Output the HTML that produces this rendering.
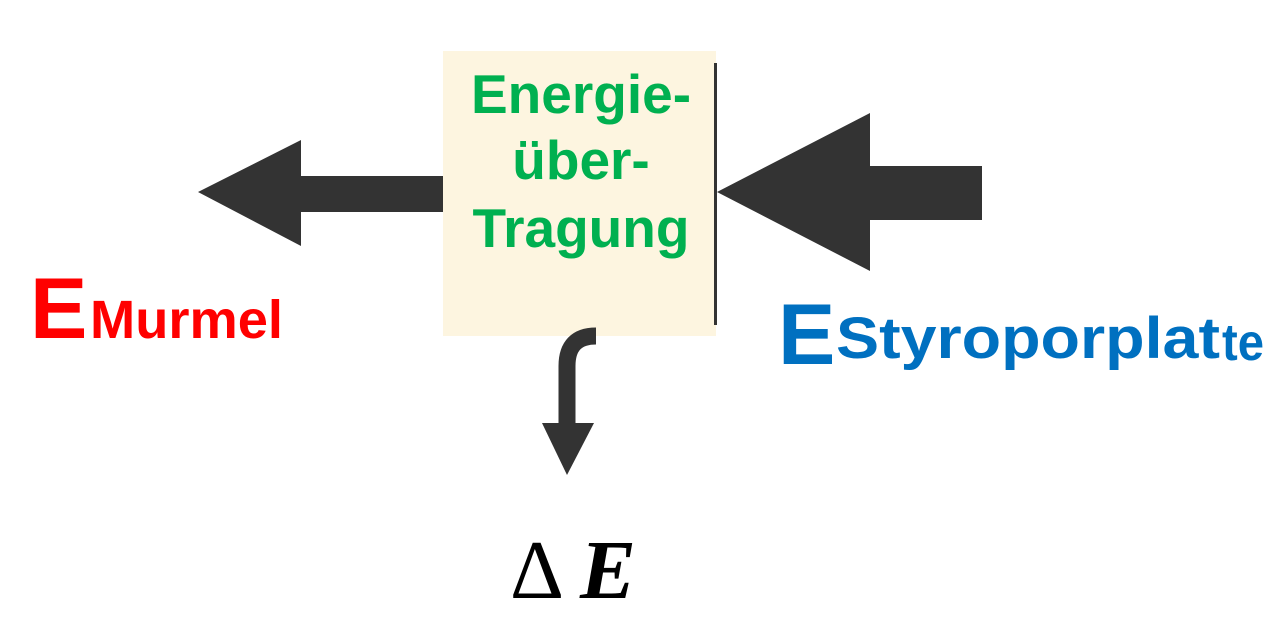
<!DOCTYPE html>
<html><head><style>html,body{margin:0;padding:0;background:#fff;}</style></head>
<body>
<svg width="1281" height="630" viewBox="0 0 1281 630" xmlns="http://www.w3.org/2000/svg">
<rect x="443" y="51" width="273" height="285" fill="#fdf5e0"/>
<rect x="714" y="63" width="3" height="262" fill="#333"/>
<polygon points="198,192 301,140 301,176 443,176 443,212 301,212 301,246" fill="#333"/>
<polygon points="717,192 870,113 870,166 982,166 982,220 870,220 870,271" fill="#333"/>
<path d="M596,336 Q567,336 567,366 L567,425" stroke="#333" stroke-width="17" fill="none"/>
<polygon points="542,423 594,423 567,475" fill="#333"/>
<g font-family="Liberation Sans, Arial, sans-serif" font-weight="bold" fill="#00b050" font-size="55" text-anchor="middle">
<text x="581" y="113">Energie-</text>
<text x="581" y="179">über-</text>
<text x="581" y="247">Tragung</text>
</g>
<g font-family="Liberation Sans, Arial, sans-serif" font-weight="bold" fill="#ff0000">
<text x="30" y="338" font-size="86">E</text>
<text x="90" y="338" font-size="54" textLength="193" lengthAdjust="spacingAndGlyphs">Murmel</text>
</g>
<g font-family="Liberation Sans, Arial, sans-serif" font-weight="bold" fill="#0070c0">
<text x="778" y="364" font-size="86">E</text>
<text x="836" y="358" font-size="58" textLength="384" lengthAdjust="spacingAndGlyphs">Styroporplat</text>
<text x="1222" y="360" font-size="52" textLength="42" lengthAdjust="spacingAndGlyphs">te</text>
</g>
<g font-family="Liberation Serif, serif" fill="#000" font-size="84">
<text x="510" y="598">Δ</text>
<text x="580" y="598" font-style="italic" font-weight="bold">E</text>
</g>
</svg>
</body></html>
